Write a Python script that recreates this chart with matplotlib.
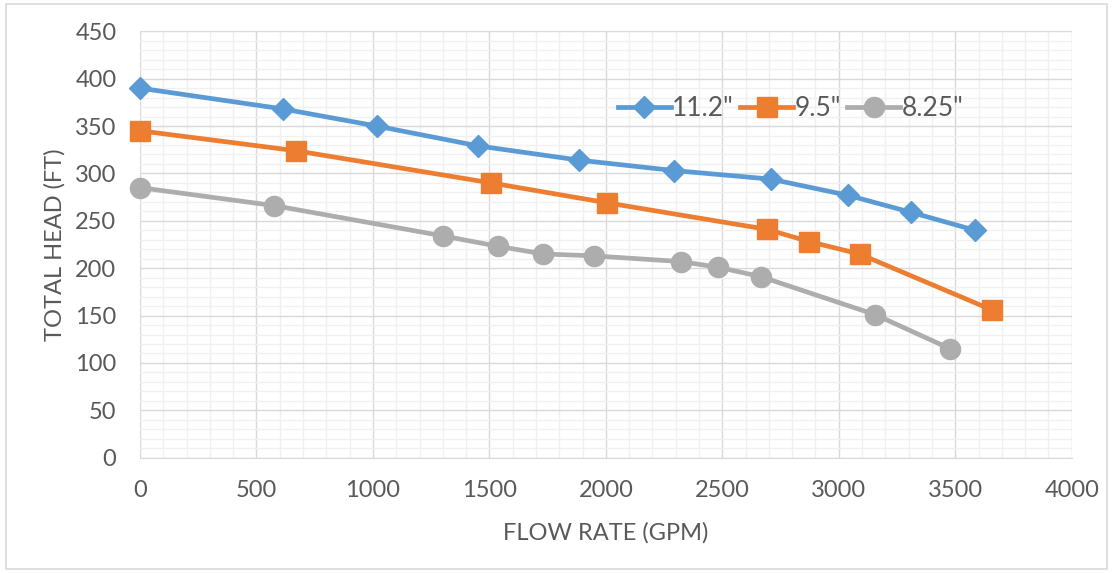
import matplotlib.pyplot as plt
from matplotlib.ticker import MultipleLocator
import matplotlib.patches as mpatches

# ============================================================
# Datos (curvas de bomba)
# ============================================================
flow_112 = [0, 615, 1016, 1453, 1886, 2294, 2708, 3038, 3310, 3585]
head_112 = [390, 368, 350, 329, 314, 303, 294, 277, 259, 240]

flow_95 = [0, 668, 1507, 2005, 2691, 2874, 3089, 3657]
head_95 = [345, 324, 290, 269, 241, 228, 215, 156]

flow_825 = [0, 577, 1302, 1539, 1732, 1949, 2321, 2483, 2666, 3156, 3478]
head_825 = [285, 266, 234, 223, 215, 213, 207, 201, 191, 151, 115]

series_labels = ['11.2"', '9.5"', '8.25"']

c_azul = "#5B9BD5"
c_naranja = "#ED7D31"
c_gris = "#ADADAD"
c_texto = "#595959"

plt.rcParams['font.family'] = ['Lato', 'DejaVu Sans']

fig = plt.figure(figsize=(11.13, 5.73), dpi=100)
ax = fig.add_axes([0.1258, 0.2012, 0.9629 - 0.1258, 0.9454 - 0.2012])

# borde exterior del grafico
fig.patches.append(mpatches.Rectangle((0.005, 0.007), 0.99, 0.986, transform=fig.transFigure,
                                      fill=False, edgecolor="#D9D9D9", linewidth=1.2))

ax.plot(flow_112, head_112, color=c_azul, linewidth=3.4, marker="D", markersize=11,
        label=series_labels[0], zorder=3, clip_on=False)
ax.plot(flow_95, head_95, color=c_naranja, linewidth=3.4, marker="s", markersize=14.5,
        label=series_labels[1], zorder=3, clip_on=False)
ax.plot(flow_825, head_825, color=c_gris, linewidth=3.4, marker="o", markersize=14.5,
        label=series_labels[2], zorder=3, clip_on=False)

ax.set_xlim(0, 4000)
ax.set_ylim(0, 450)
ax.xaxis.set_major_locator(MultipleLocator(500))
ax.xaxis.set_minor_locator(MultipleLocator(100))
ax.yaxis.set_major_locator(MultipleLocator(50))
ax.yaxis.set_minor_locator(MultipleLocator(10))

ax.grid(which="minor", color="#F0F0F0", linewidth=1.0, zorder=0)
ax.grid(which="major", color="#D9D9D9", linewidth=1.0, zorder=1)
ax.set_axisbelow(True)

for s in ax.spines.values():
    s.set_visible(False)
ax.spines["bottom"].set_visible(True)
ax.spines["bottom"].set_color("#D9D9D9")

ax.tick_params(which="both", length=0)
ax.tick_params(axis="x", pad=16, labelsize=17, labelcolor=c_texto)
ax.tick_params(axis="y", pad=17, labelsize=17, labelcolor=c_texto)

ax.set_xlabel("FLOW RATE (GPM)", fontsize=17, color=c_texto, labelpad=15)
ax.set_ylabel("TOTAL HEAD (FT)", fontsize=17, color=c_texto, labelpad=7)

ax.legend(loc="center left", bbox_to_anchor=(0.513, 0.818), ncol=3, frameon=False,
          fontsize=19, labelcolor=c_texto, handlelength=2.0, handletextpad=0.05,
          columnspacing=0.25, borderaxespad=0, borderpad=0)

plt.savefig("out.png", dpi=100)
